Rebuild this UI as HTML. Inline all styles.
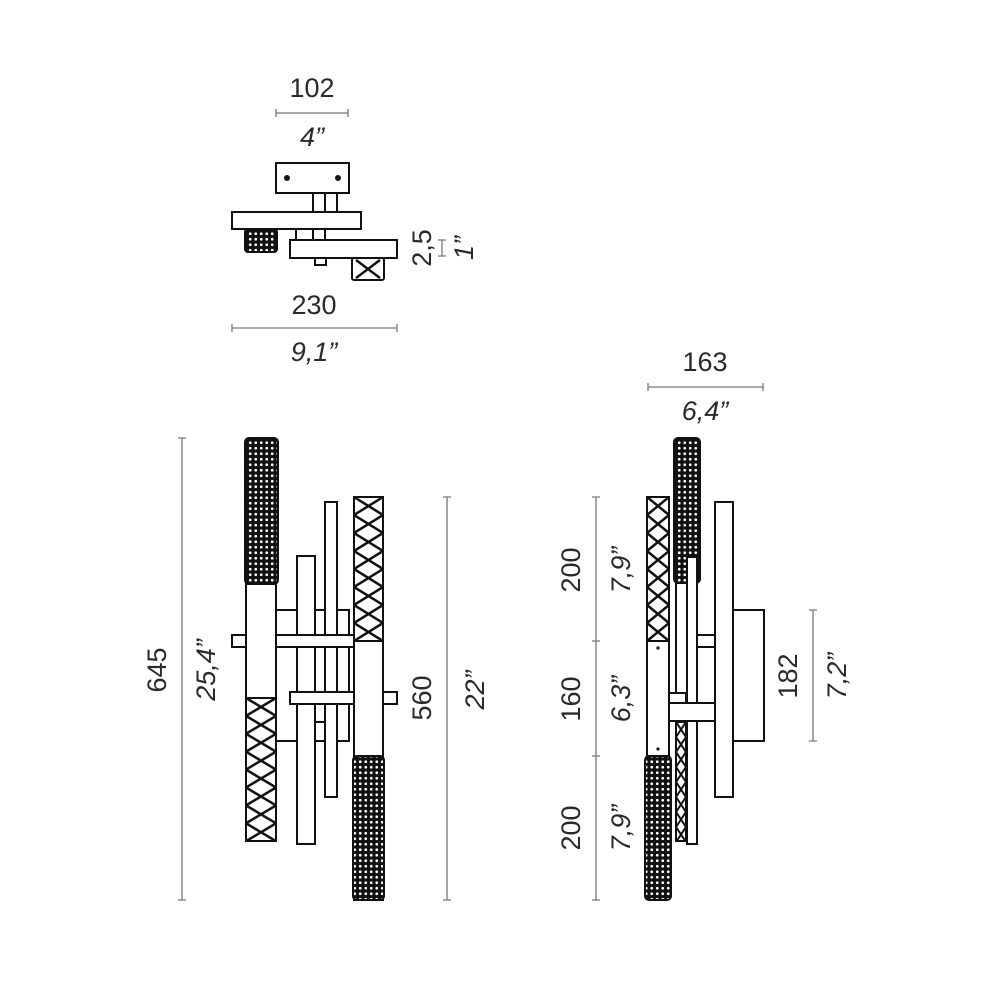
<!DOCTYPE html>
<html><head><meta charset="utf-8"><style>
html,body{margin:0;padding:0;background:#fff}
svg{display:block}
text{font-family:"Liberation Sans",sans-serif;font-size:27px;fill:#2a2a2a}
.i{font-style:italic}
</style></head><body>
<svg width="1000" height="1000" viewBox="0 0 1000 1000" xmlns="http://www.w3.org/2000/svg">
<defs>
<pattern id="bd" width="5.5" height="5.5" patternUnits="userSpaceOnUse">
<rect width="5.5" height="5.5" fill="#111"/><circle cx="2.75" cy="2.75" r="1.35" fill="#fff"/>
</pattern>
<pattern id="x1" x="246" y="698" width="30" height="17.9" patternUnits="userSpaceOnUse">
<path d="M0 0L30 17.9M30 0L0 17.9" stroke="#111" stroke-width="2.5"/></pattern>
<pattern id="x2" x="354" y="497" width="29" height="18" patternUnits="userSpaceOnUse">
<path d="M0 0L29 18M29 0L0 18" stroke="#111" stroke-width="2.5"/></pattern>
<pattern id="x3" x="647" y="497" width="22" height="18" patternUnits="userSpaceOnUse">
<path d="M0 0L22 18M22 0L0 18" stroke="#111" stroke-width="2.5"/></pattern>
<pattern id="x4" x="676" y="722" width="10" height="15" patternUnits="userSpaceOnUse">
<path d="M0 0L10 15M10 0L0 15" stroke="#111" stroke-width="2"/></pattern>
<pattern id="x5" x="352" y="258" width="32" height="22" patternUnits="userSpaceOnUse">
<path d="M4 2L28 20M28 2L4 20" stroke="#111" stroke-width="2.5"/></pattern>
</defs>

<g stroke="#777" stroke-width="1.3" fill="none">
<path d="M276 113H348M276 109V117M348 109V117"/>
<path d="M232 328H397M232 324V332M397 324V332"/>
<path d="M442 240V256M438 240H446M438 256H446"/>
<path d="M182 438V900M178 438H186M178 900H186"/>
<path d="M447 497V900M443 497H451M443 900H451"/>
<path d="M648 387H763M648 383V391M763 383V391"/>
<path d="M596 497V900M592 497H600M592 641H600M592 756H600M592 900H600"/>
<path d="M813 610V741M809 610H817M809 741H817"/>
</g>

<!-- top view -->
<g stroke="#111" stroke-width="2" fill="#fff">
<rect x="313" y="193" width="24" height="19"/><path d="M325 193V212"/>
<rect x="296" y="229" width="29" height="11"/><path d="M313 229V240"/>
<rect x="315" y="258" width="11" height="7"/>
<rect x="276" y="163" width="73" height="30"/>
<rect x="232" y="212" width="129" height="17"/>
<rect x="290" y="240" width="107" height="18"/>
<rect x="245" y="229" width="32" height="23" fill="url(#bd)" rx="3"/>
<rect x="352" y="258" width="32" height="22" fill="url(#x5)" rx="2"/>
</g>
<circle cx="287" cy="178" r="3" fill="#111"/><circle cx="338" cy="178" r="3" fill="#111"/>

<!-- front view -->
<g stroke="#111" stroke-width="2" fill="#fff">
<rect x="276" y="610" width="73" height="131"/>
<rect x="325" y="502" width="12" height="295"/>
<rect x="297" y="556" width="18" height="288"/>
<path d="M315 722H325" fill="none"/>
<rect x="232" y="635" width="122" height="12"/>
<rect x="290" y="692" width="64" height="12"/>
<rect x="383" y="692" width="14" height="12"/>
<rect x="246" y="584" width="30" height="257"/>
<rect x="246" y="698" width="30" height="143" fill="url(#x1)"/>
<rect x="245" y="438" width="33" height="146" fill="url(#bd)" rx="4"/>
<rect x="354" y="497" width="29" height="403"/>
<rect x="354" y="497" width="29" height="144" fill="url(#x2)"/>
<rect x="353" y="756" width="31" height="144" fill="url(#bd)" rx="4"/>
</g>

<!-- side view -->
<g stroke="#111" stroke-width="2" fill="#fff">
<rect x="733" y="610" width="31" height="131"/>
<rect x="715" y="502" width="18" height="295"/>
<rect x="697" y="635" width="18" height="12"/>
<rect x="674" y="438" width="26" height="145" fill="url(#bd)" rx="4"/>
<rect x="676" y="583" width="11" height="258"/>
<rect x="676" y="722" width="10" height="119" fill="url(#x4)"/>
<rect x="687" y="557" width="10" height="287"/>
<rect x="669" y="693" width="17" height="10"/>
<rect x="669" y="703" width="46" height="18"/>
<rect x="647" y="497" width="22" height="259"/>
<rect x="647" y="497" width="22" height="144" fill="url(#x3)"/>
<rect x="645" y="756" width="26" height="144" fill="url(#bd)" rx="4"/>
</g>
<circle cx="658" cy="648" r="1.6" fill="#111"/><circle cx="658" cy="749" r="1.6" fill="#111"/>

<!-- labels -->
<text x="312" y="97" text-anchor="middle">102</text>
<text x="312" y="146" text-anchor="middle" class="i">4”</text>
<text x="314" y="314" text-anchor="middle">230</text>
<text x="314" y="361" text-anchor="middle" class="i">9,1”</text>
<text transform="translate(431,248) rotate(-90)" text-anchor="middle">2,5</text>
<text transform="translate(473,248) rotate(-90)" text-anchor="middle" class="i">1”</text>
<text transform="translate(166,670) rotate(-90)" text-anchor="middle">645</text>
<text transform="translate(215,670) rotate(-90)" text-anchor="middle" class="i">25,4”</text>
<text transform="translate(431,698) rotate(-90)" text-anchor="middle">560</text>
<text transform="translate(484,690) rotate(-90)" text-anchor="middle" class="i">22”</text>
<text x="705" y="371" text-anchor="middle">163</text>
<text x="705" y="420" text-anchor="middle" class="i">6,4”</text>
<text transform="translate(580,570) rotate(-90)" text-anchor="middle">200</text>
<text transform="translate(630,570) rotate(-90)" text-anchor="middle" class="i">7,9”</text>
<text transform="translate(580,699) rotate(-90)" text-anchor="middle">160</text>
<text transform="translate(630,699) rotate(-90)" text-anchor="middle" class="i">6,3”</text>
<text transform="translate(580,828) rotate(-90)" text-anchor="middle">200</text>
<text transform="translate(630,828) rotate(-90)" text-anchor="middle" class="i">7,9”</text>
<text transform="translate(797,676) rotate(-90)" text-anchor="middle">182</text>
<text transform="translate(846,676) rotate(-90)" text-anchor="middle" class="i">7,2”</text>
</svg>
</body></html>
